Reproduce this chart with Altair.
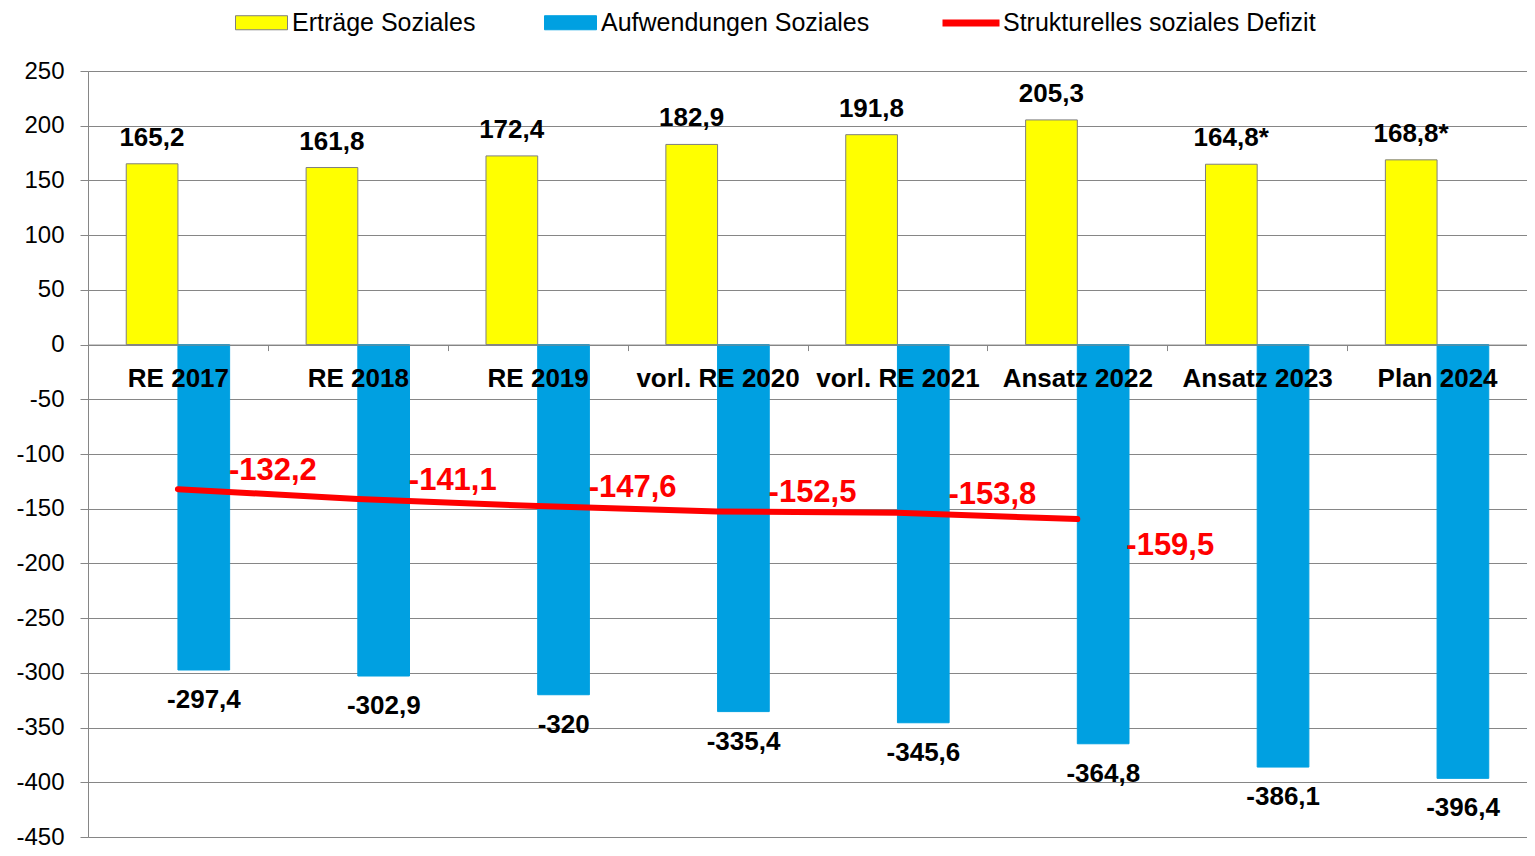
import altair as alt
import pandas as pd

categories = ["RE 2017", "RE 2018", "RE 2019", "vorl. RE 2020", "vorl. RE 2021",
              "Ansatz 2022", "Ansatz 2023", "Plan 2024"]
ertraege = [165.2, 161.8, 172.4, 182.9, 191.8, 205.3, 164.8, 168.8]
ertraege_suffix = ["", "", "", "", "", "", "*", "*"]
aufwendungen = [-297.4, -302.9, -320.0, -335.4, -345.6, -364.8, -386.1, -396.4]
defizit_categories = ["RE 2017", "RE 2018", "RE 2019", "vorl. RE 2020", "vorl. RE 2021", "Ansatz 2022"]
defizit = [-132.2, -141.1, -147.6, -152.5, -153.8, -159.5]
y_ticks = [-450, -400, -350, -300, -250, -200, -150, -100, -50, 0, 50, 100, 150, 200, 250]

S_E = "Erträge Soziales"
S_A = "Aufwendungen Soziales"
S_D = "Strukturelles soziales Defizit"

FONT = "Liberation Sans"
GRID = "#868686"
W, H = 1439, 766
Y_MIN, Y_MAX = -450, 250


def fmt(v):
    s = f"{v:.1f}".rstrip("0").rstrip(".")
    return s.replace(".", ",")


rows = []
for c, v, suf in zip(categories, ertraege, ertraege_suffix):
    rows.append({"Kategorie": c, "Serie": S_E, "Wert": v, "Label": fmt(v) + suf})
for c, v in zip(categories, aufwendungen):
    rows.append({"Kategorie": c, "Serie": S_A, "Wert": v, "Label": fmt(v)})
bars_df = pd.DataFrame(rows)

line_df = pd.DataFrame({
    "Kategorie": defizit_categories,
    "Serie": [S_D] * len(defizit),
    "Wert": defizit,
    "Label": [fmt(v) for v in defizit],
    "Nr": list(range(len(defizit))),
})

x_enc = alt.X(
    "Kategorie:N",
    sort=categories,
    scale=alt.Scale(paddingInner=0, paddingOuter=0),
    axis=alt.Axis(
        title=None, orient="bottom", offset=-(H * (0 - Y_MIN) / (Y_MAX - Y_MIN)),
        domainColor=GRID, tickColor=GRID, tickSize=6, tickBand="extent",
        labelFont=FONT, labelFontSize=26, labelFontWeight="bold", labelColor="black",
        labelPadding=15, labelAngle=0, labelLimit=400, grid=False, zindex=1,
    ),
)
y_enc = alt.Y(
    "Wert:Q",
    scale=alt.Scale(domain=[Y_MIN, Y_MAX], nice=False),
    axis=alt.Axis(
        title=None, values=y_ticks, labelExpr="toString(datum.value)",
        grid=True, gridColor=GRID, domainColor=GRID, tickColor=GRID, tickSize=8,
        labelFont=FONT, labelFontSize=24, labelColor="black", labelPadding=16,
    ),
)

bar_legend = alt.Legend(
    title=None, orient="none", legendX=147, legendY=-75, direction="horizontal",
    symbolType="M-1,-0.27H1V0.27H-1Z", symbolSize=2704, symbolStrokeWidth=1,
    labelFont=FONT, labelFontSize=25, labelColor="black", labelOffset=4,
    labelLimit=500, columnPadding=66,
)

bars = alt.Chart(bars_df).mark_bar(strokeWidth=1).encode(
    x=x_enc,
    y=y_enc,
    xOffset=alt.XOffset("Serie:N", sort=[S_E, S_A],
                        scale=alt.Scale(domain=[S_E, S_A], paddingOuter=0.74, paddingInner=0)),
    fill=alt.Fill("Serie:N", sort=[S_E, S_A],
                  scale=alt.Scale(domain=[S_E, S_A], range=["#FFFF00", "#00A0E1"]),
                  legend=bar_legend),
    stroke=alt.Stroke("Serie:N", sort=[S_E, S_A],
                      scale=alt.Scale(domain=[S_E, S_A], range=["#7F7F7F", "#00A0E1"]),
                      legend=bar_legend),
)

line = alt.Chart(line_df).mark_line(strokeWidth=6, strokeCap="round", strokeJoin="round").encode(
    x=alt.X("Kategorie:N", sort=categories),
    y=alt.Y("Wert:Q"),
    color=alt.Color("Serie:N", scale=alt.Scale(domain=[S_D], range=["#FF0000"]),
                    legend=alt.Legend(
                        title=None, orient="none", legendX=851, legendY=-80,
                        symbolType="stroke", symbolSize=3249, symbolStrokeWidth=7,
                        labelFont=FONT, labelFontSize=25, labelColor="black",
                        labelOffset=0, labelLimit=500)),
)

text_base = dict(font=FONT, fontWeight="bold", baseline="middle")

lbl_e = alt.Chart(bars_df).transform_filter(alt.datum.Serie == S_E).mark_text(
    dx=-26, dy=-26, fontSize=26, color="black", align="center", **text_base
).encode(x=alt.X("Kategorie:N", sort=categories), y="Wert:Q", text="Label:N")

lbl_a = alt.Chart(bars_df).transform_filter(alt.datum.Serie == S_A).mark_text(
    dx=26, dy=30, fontSize=26, color="black", align="center", **text_base
).encode(x=alt.X("Kategorie:N", sort=categories), y="Wert:Q", text="Label:N")

lbl_d1 = alt.Chart(line_df).transform_filter(alt.datum.Nr < 5).mark_text(
    dx=51, dy=-18, fontSize=31, color="#FF0000", align="left", **text_base
).encode(x=alt.X("Kategorie:N", sort=categories), y="Wert:Q", text="Label:N")

lbl_d2 = alt.Chart(line_df).transform_filter(alt.datum.Nr >= 5).mark_text(
    dx=49, dy=27, fontSize=31, color="#FF0000", align="left", **text_base
).encode(x=alt.X("Kategorie:N", sort=categories), y="Wert:Q", text="Label:N")

chart = alt.layer(bars, line, lbl_e, lbl_a, lbl_d1, lbl_d2).properties(
    width=W, height=H,
    autosize=alt.AutoSizeParams(type="none"),
    padding={"left": 80, "top": 63, "right": 0, "bottom": 11},
).configure_view(stroke=None).configure(font=FONT)

chart.save("out.html", embed_options={"renderer": "svg", "actions": False})
